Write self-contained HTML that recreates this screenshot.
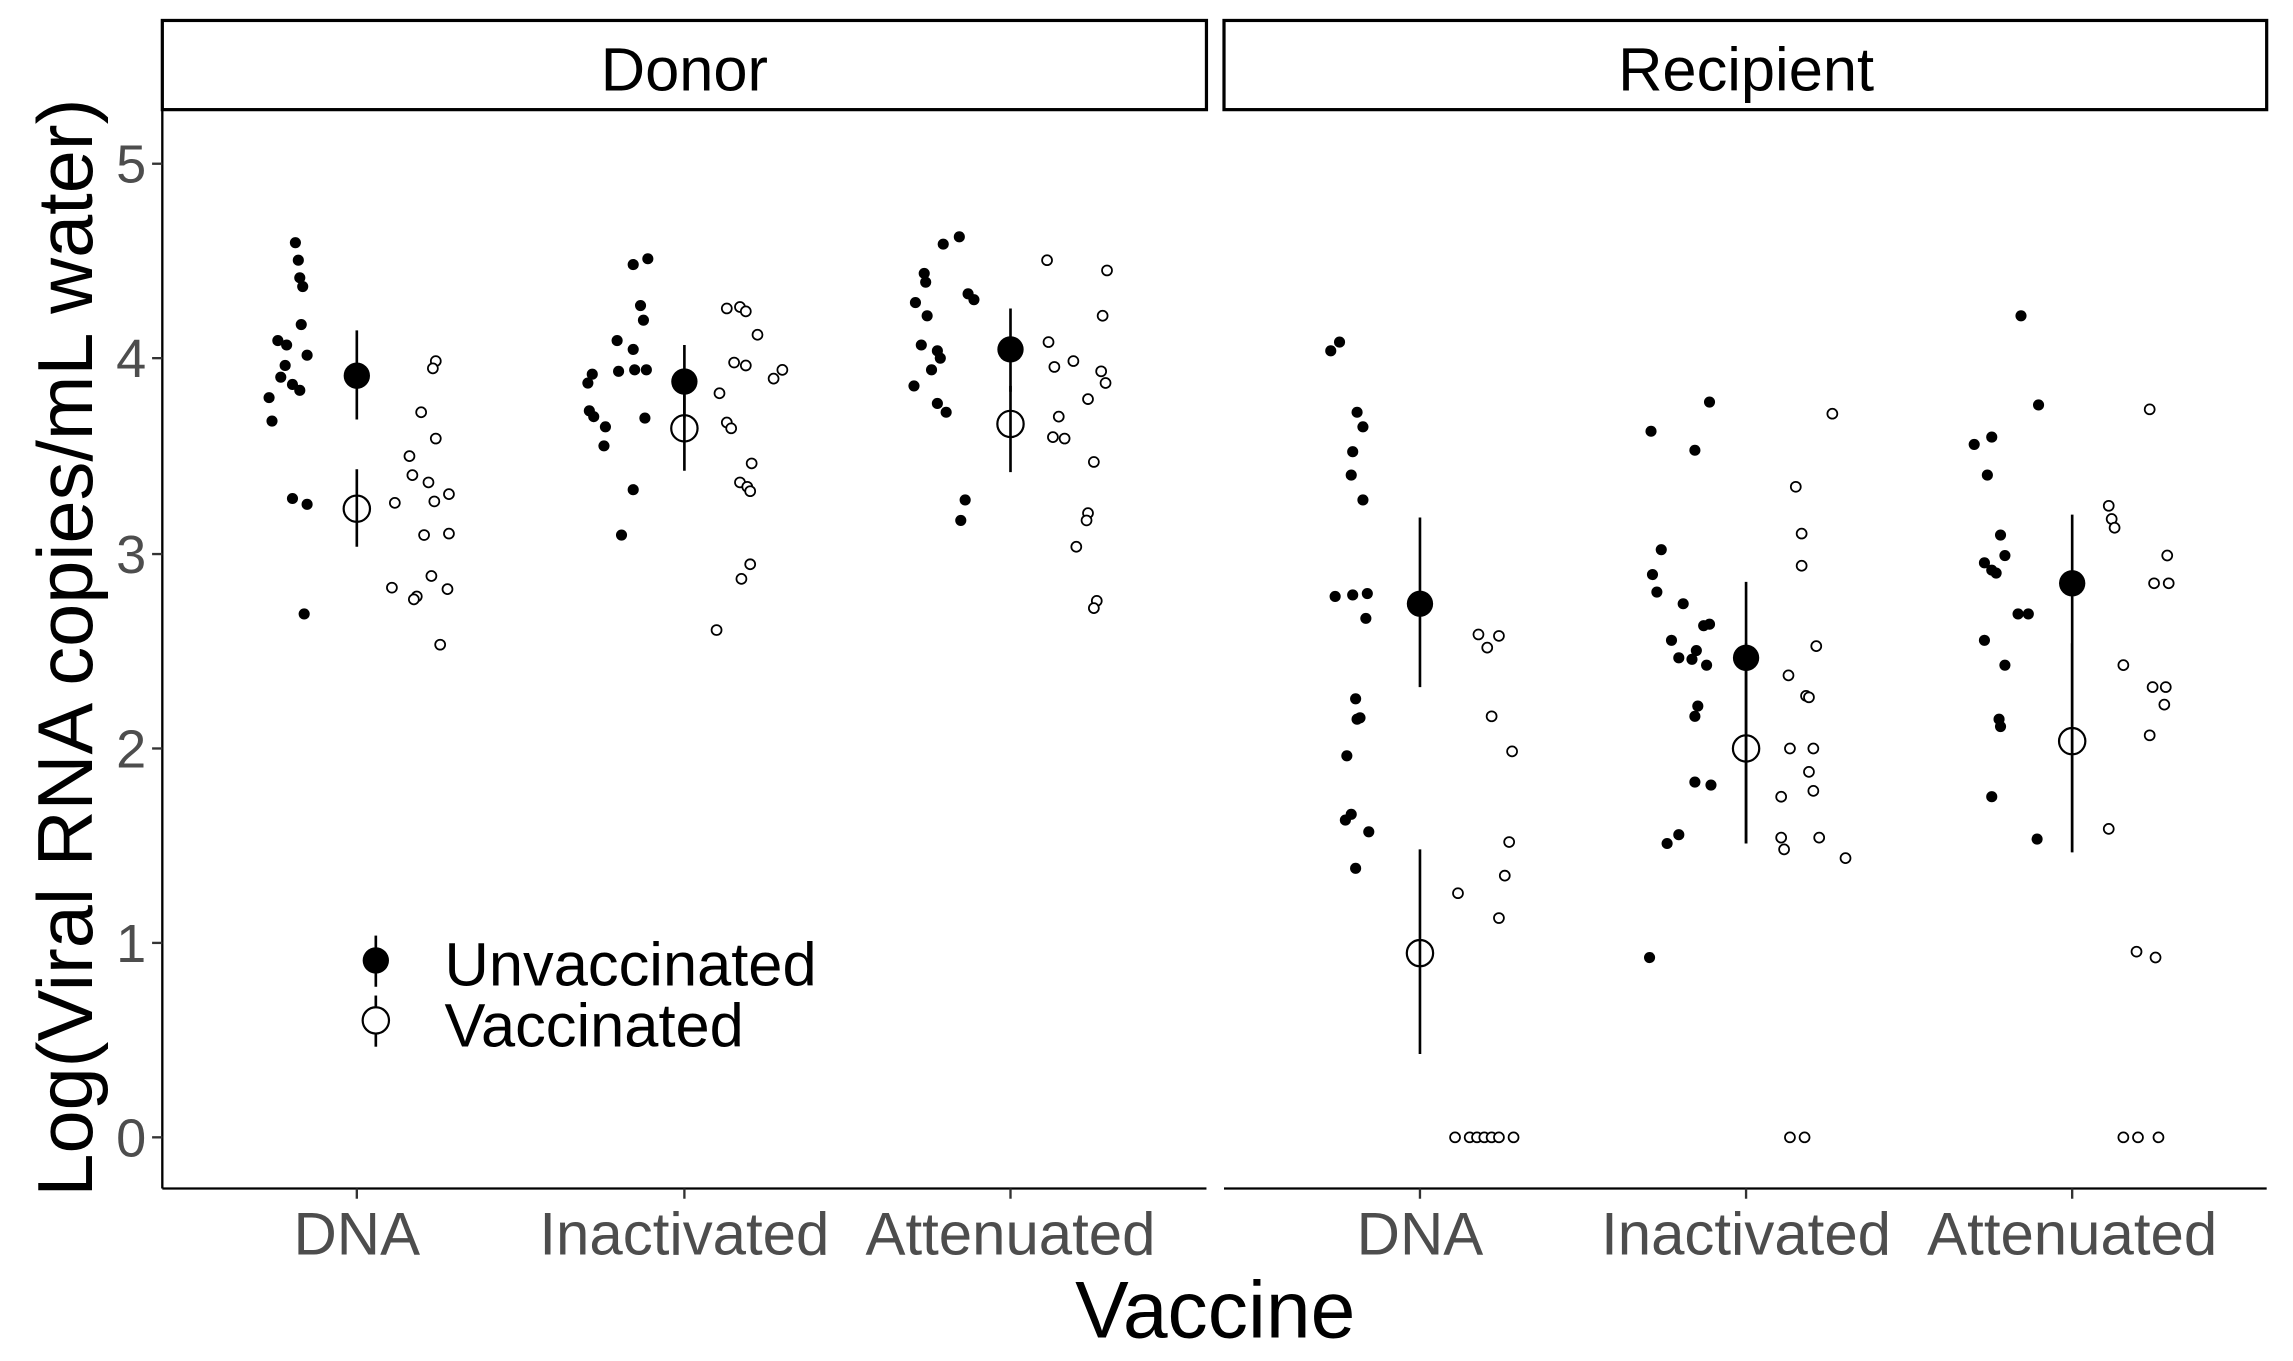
<!DOCTYPE html>
<html><head><meta charset="utf-8"><style>
html,body{margin:0;padding:0;background:#fff;}
svg{display:block;}
text{font-family:"Liberation Sans",sans-serif;}
</style></head><body>
<svg id="s" width="2293" height="1361" viewBox="0 0 1568 931" preserveAspectRatio="none" xmlns="http://www.w3.org/2000/svg">
<rect x="0" y="0" width="1568" height="931" fill="#fff"/>
<rect x="111" y="14" width="714" height="61" fill="#fff" stroke="#000" stroke-width="2.2"/>
<rect x="837" y="14" width="713" height="61" fill="#fff" stroke="#000" stroke-width="2.2"/>
<text x="468" y="62" font-size="42" text-anchor="middle">Donor</text>
<text x="1194" y="62" font-size="42" text-anchor="middle">Recipient</text>
<line x1="111" y1="75" x2="111" y2="813" stroke="#000" stroke-width="1.6"/>
<line x1="111" y1="813" x2="825" y2="813" stroke="#000" stroke-width="1.6"/>
<line x1="837" y1="813" x2="1550" y2="813" stroke="#000" stroke-width="1.6"/>
<g stroke="#333" stroke-width="1.6">
<line x1="104" y1="112" x2="111" y2="112"/><line x1="104" y1="245" x2="111" y2="245"/><line x1="104" y1="379" x2="111" y2="379"/><line x1="104" y1="512" x2="111" y2="512"/><line x1="104" y1="645" x2="111" y2="645"/><line x1="104" y1="778" x2="111" y2="778"/>
<line x1="244" y1="813" x2="244" y2="820"/><line x1="468" y1="813" x2="468" y2="820"/><line x1="691" y1="813" x2="691" y2="820"/>
<line x1="971" y1="813" x2="971" y2="820"/><line x1="1194" y1="813" x2="1194" y2="820"/><line x1="1417" y1="813" x2="1417" y2="820"/>
</g>
<g font-size="37" fill="#4d4d4d" text-anchor="end">
<text x="100" y="125">5</text><text x="100" y="258">4</text><text x="100" y="392">3</text><text x="100" y="525">2</text><text x="100" y="658">1</text><text x="100" y="791">0</text>
</g>
<g font-size="41" fill="#4d4d4d" text-anchor="middle">
<text x="244" y="858">DNA</text><text x="468" y="858">Inactivated</text><text x="691" y="858">Attenuated</text>
<text x="971" y="858">DNA</text><text x="1194" y="858">Inactivated</text><text x="1417" y="858">Attenuated</text>
</g>
<text x="831" y="915" font-size="55" text-anchor="middle">Vaccine</text>
<text transform="translate(63,443) rotate(-90)" font-size="53" text-anchor="middle">Log(Viral RNA copies/mL water)</text>
<line x1="257" y1="640" x2="257" y2="675" stroke="#000" stroke-width="1.8"/>
<circle cx="257" cy="657" r="9" fill="#000"/>
<line x1="257" y1="681" x2="257" y2="716" stroke="#000" stroke-width="1.8"/>
<circle cx="257" cy="698" r="9" fill="#fff" stroke="#000" stroke-width="1.5"/>
<text x="304" y="674" font-size="42">Unvaccinated</text>
<text x="304" y="716" font-size="42">Vaccinated</text>
<g id="pts"></g>
</svg>
<script>
var F=[
[202,166],[204,178],[205,190],[207,196],[190,233],[196,236],[210,243],[206,222],[195,250],[192,258],[200,263],[205,267],[184,272],[186,288],[200,341],[210,345],[208,420],
[443,177],[433,181],[438,209],[440,219],[422,233],[433,239],[405,256],[423,254],[434,253],[442,253],[402,262],[403,281],[406,285],[414,292],[413,305],[441,286],[433,335],[425,366],
[656,162],[645,167],[632,187],[633,193],[626,207],[634,216],[662,201],[666,205],[630,236],[641,240],[643,245],[637,253],[625,264],[641,276],[647,282],[660,342],[657,356],
[916,234],[910,240],[928,282],[932,292],[925,309],[924,325],[932,342],[925,407],[935,406],[913,408],[934,423],[927,478],[930,491],[928,492],[921,517],[924,557],[920,561],[936,569],[927,594],
[1169,275],[1129,295],[1159,308],[1130,393],[1133,405],[1136,376],[1143,438],[1151,413],[1165,428],[1160,445],[1148,450],[1169,427],[1157,451],[1167,455],[1161,483],[1159,490],[1159,535],[1170,537],[1148,571],[1140,577],[1128,655],
[1382,216],[1394,277],[1362,299],[1350,304],[1359,325],[1368,366],[1371,380],[1357,385],[1362,390],[1365,392],[1380,420],[1387,420],[1357,438],[1371,455],[1367,492],[1368,497],[1362,545],[1393,574]];
var O=[
[298,247],[296,252],[288,282],[298,300],[280,312],[282,325],[293,330],[307,338],[297,343],[270,344],[307,365],[290,366],[295,394],[268,402],[285,408],[283,410],[306,403],[301,441],
[497,211],[506,210],[510,213],[518,229],[502,248],[510,250],[535,253],[529,259],[492,269],[497,289],[500,293],[514,317],[506,330],[511,333],[513,336],[513,386],[507,396],[490,431],
[716,178],[757,185],[717,234],[754,216],[734,247],[721,251],[753,254],[756,262],[744,273],[724,285],[720,299],[728,300],[748,316],[744,351],[743,356],[736,374],[750,411],[748,416],
[1011,434],[1025,435],[1017,443],[1020,490],[1034,514],[1032,576],[1029,599],[997,611],[1025,628],[995,778],[1005,778],[1010,778],[1015,778],[1020,778],[1025,778],[1035,778],
[1253,283],[1228,333],[1232,365],[1232,387],[1242,442],[1223,462],[1235,476],[1237,477],[1240,512],[1224,512],[1237,528],[1240,541],[1218,545],[1218,573],[1220,581],[1244,573],[1262,587],[1224,778],[1234,778],
[1470,280],[1442,346],[1444,355],[1446,361],[1482,380],[1473,399],[1483,399],[1452,455],[1472,470],[1481,470],[1480,482],[1470,503],[1442,567],[1461,651],[1474,655],[1452,778],[1462,778],[1476,778]];
var M=[[244,257,226,287,1],[244,348,321,374,0],[468,261,236,286,1],[468,293,268,322,0],[691,239,211,268,1],[691,290,264,323,0],
[971,413,354,470,1],[971,652,581,721,0],[1194,450,398,577,1],[1194,512,440,577,0],[1417,399,352,583,1],[1417,507,440,583,0]];
var h='';
F.forEach(function(p){h+='<circle cx="'+p[0]+'" cy="'+p[1]+'" r="3.8" fill="#000"/>';});
O.forEach(function(p){h+='<circle cx="'+p[0]+'" cy="'+p[1]+'" r="3.4" fill="#fff" stroke="#000" stroke-width="1.2"/>';});
M.forEach(function(m){h+='<line x1="'+m[0]+'" y1="'+m[2]+'" x2="'+m[0]+'" y2="'+m[3]+'" stroke="#000" stroke-width="1.8"/>';});
M.forEach(function(m){h+=m[4]?'<circle cx="'+m[0]+'" cy="'+m[1]+'" r="9" fill="#000"/>':'<circle cx="'+m[0]+'" cy="'+m[1]+'" r="9" fill="none" stroke="#000" stroke-width="1.5"/>';});
document.getElementById('pts').innerHTML=h;
</script>
</body></html>
